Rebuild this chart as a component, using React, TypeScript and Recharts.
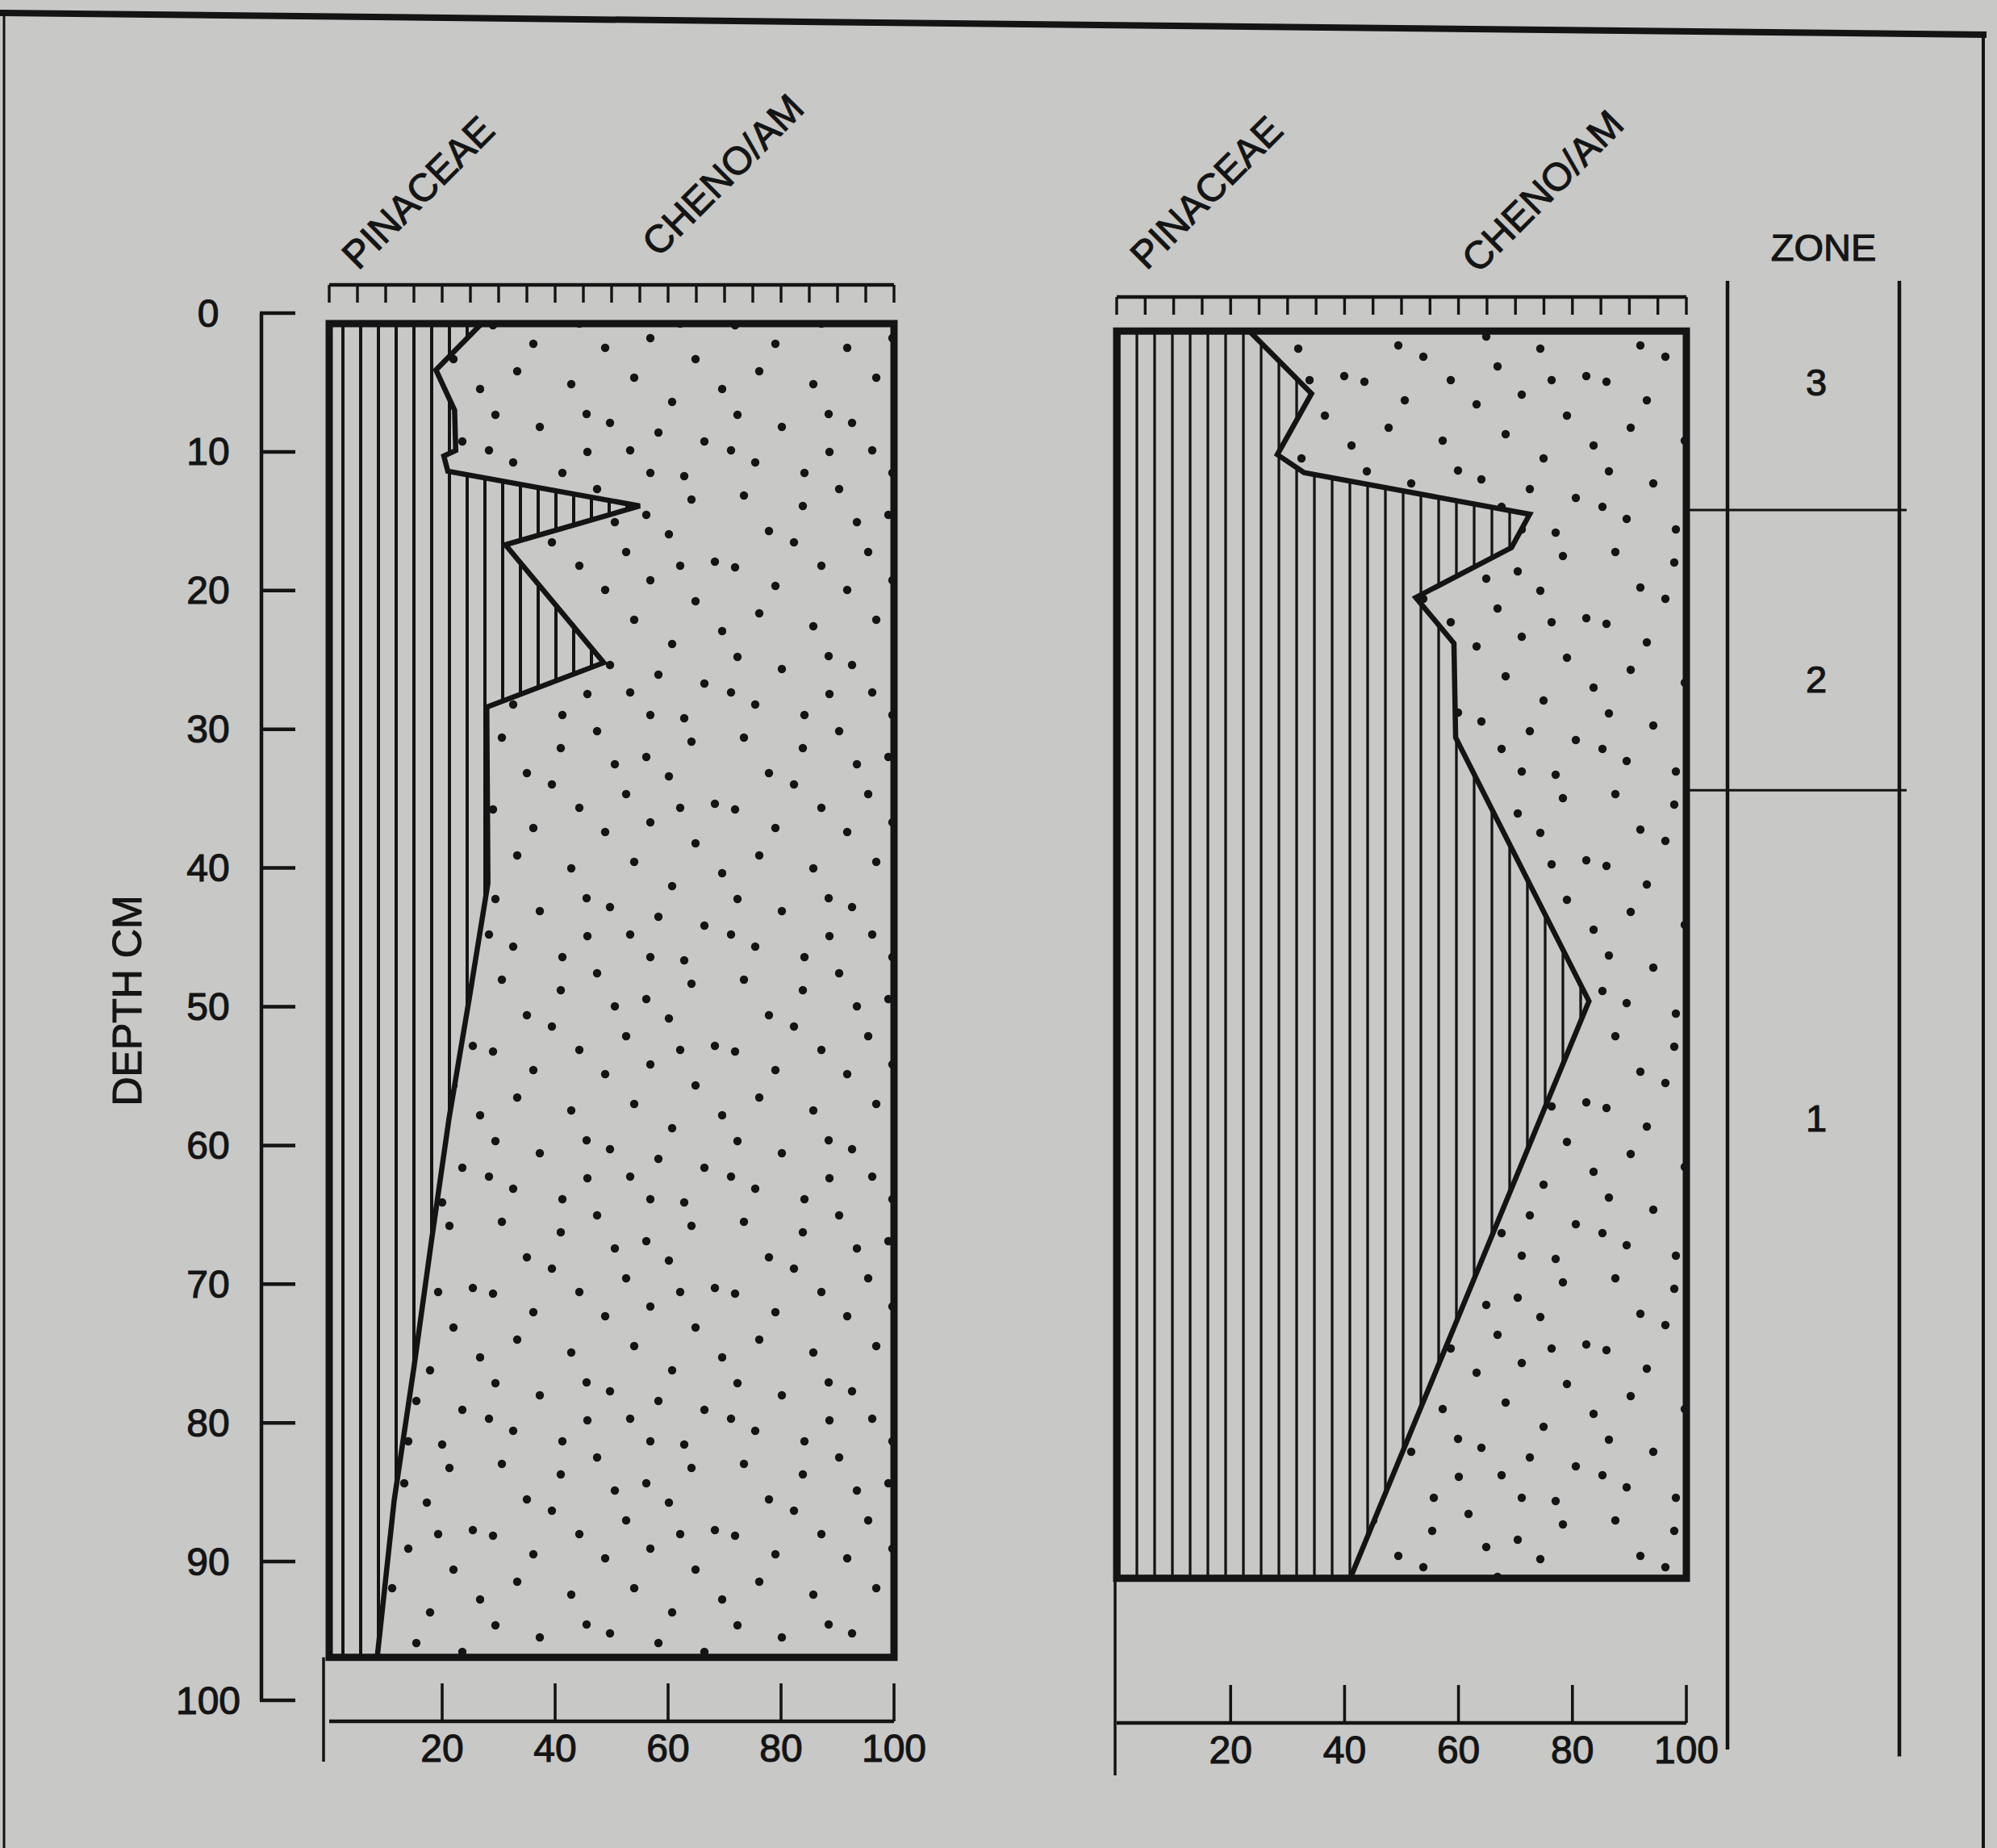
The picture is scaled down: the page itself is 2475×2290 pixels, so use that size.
import React from 'react';
import { ComposedChart, Area, XAxis, YAxis, ReferenceLine, ReferenceArea, ReferenceDot } from 'recharts';

// ---------- data ----------
const TAXA = ['PINACEAE', 'CHENO/AM'];

// left core: depth (cm) and Pinaceae percentage (remainder is Cheno/Am)
const LEFT_DEPTH = [0.75, 4.1, 7.0, 9.9, 10.3, 11.4, 13.9, 16.7, 25.2, 28.4, 41.1, 49.4, 58.1, 66.9, 76.0, 85.6, 96.9];
const LEFT_PINACEAE = [27.0, 18.9, 22.2, 22.4, 20.3, 21.0, 55.0, 31.2, 48.6, 27.9, 28.1, 24.8, 21.2, 18.1, 15.0, 11.5, 8.5];

// right core
const RIGHT_DEPTH = [1.3, 5.8, 10.2, 11.5, 14.5, 16.9, 20.5, 23.8, 30.6, 49.6, 91.2];
const RIGHT_PINACEAE = [23.3, 34.2, 28.2, 32.9, 72.5, 69.3, 52.5, 59.2, 59.5, 82.9, 41.0];

const DEPTH_TICKS = [0, 10, 20, 30, 40, 50, 60, 70, 80, 90, 100];
const RULER_TICKS = [0, 5, 10, 15, 20, 25, 30, 35, 40, 45, 50, 55, 60, 65, 70, 75, 80, 85, 90, 95, 100];
const PERCENT_TICKS = [20, 40, 60, 80, 100];

const ZONE_BOUNDARIES = [14.2, 34.4];
const ZONE_NAMES = ['3', '2', '1'];
const ZONE_LABEL_DEPTHS = [5.0, 26.4, 58.0];

// ---------- style ----------
const INK = '#141414';
const PAPER = '#c8c8c6';
const FONT = '"Liberation Sans", Arial, Helvetica, sans-serif';
const TEXT_STROKE = 1.1;
const PAGE_W = 2475;
const PAGE_H = 2290;
const DEPTH0_PX = 388;
const DEPTH100_PX = 2107;
const PX_PER_CM = (DEPTH100_PX - DEPTH0_PX) / 100;
const pxToDepth = (px: number) => (px - DEPTH0_PX) / PX_PER_CM;
const TOP_AXIS_H = 40;
const BOTTOM_AXIS_H = 100;
const Y_AXIS_W = 200;

const textStyle = {
  fontFamily: FONT,
  fill: INK,
  stroke: INK,
  strokeWidth: TEXT_STROKE,
};

function RulerTick(props: any) {
  const { x, y } = props;
  return <line x1={x} y1={y} x2={x} y2={y + 22} stroke={INK} strokeWidth={3.4} />;
}

function PercentTick(props: any) {
  const { x, y, payload } = props;
  return (
    <g>
      <line x1={x} y1={y} x2={x} y2={y - 47} stroke={INK} strokeWidth={3.6} />
      <text x={x} y={y + 33} textAnchor="middle" dominantBaseline="central" fontSize={48} {...textStyle}>
        {payload.value}
      </text>
    </g>
  );
}

function DepthTick(props: any) {
  const { x, y, payload } = props;
  return (
    <g>
      <line x1={x - 86} y1={y} x2={x - 42} y2={y} stroke={INK} strokeWidth={4.5} />
      <text x={x - 150} y={y} textAnchor="middle" dominantBaseline="central" fontSize={48} {...textStyle}>
        {payload.value}
      </text>
    </g>
  );
}

type PanelProps = {
  id: string;
  left: number;
  width: number;
  plotLeft: number;
  plotRight: number;
  plotTop: number;
  plotBottom: number;
  depths: number[];
  values: number[];
  depthAxis: boolean;
  borderWidth: number;
  stubX: number;
  stubBottom: number;
  zones: boolean;
};

function Panel(p: PanelProps) {
  const data = p.depths.map((d, i) => ({ depth: d, pinaceae: p.values[i] }));
  const pxPerPct = (p.plotRight - p.plotLeft) / 100;
  const pxToPct = (px: number) => (px - p.plotLeft) / pxPerPct;
  const yDomain = [pxToDepth(p.plotTop), pxToDepth(p.plotBottom)];
  const boxTop = p.depths[0];
  const boxBottom = p.depths[p.depths.length - 1];
  const margin = {
    top: p.plotTop - TOP_AXIS_H,
    bottom: PAGE_H - p.plotBottom - BOTTOM_AXIS_H,
    left: p.plotLeft - p.left - (p.depthAxis ? Y_AXIS_W : 0),
    right: p.left + p.width - p.plotRight,
  };
  const zoneLeft = pxToPct(2141);
  const zoneRight = pxToPct(2354);
  const zoneTop = pxToDepth(348);
  const zoneBottom = pxToDepth(2168);
  const zoneLineFrom = pxToPct(2093);
  const zoneLineTo = pxToPct(2363);
  const zoneLabelX = pxToPct(2251);

  return (
    <div style={{ position: 'absolute', left: p.left, top: 0, width: p.width, height: PAGE_H }}>
      <ComposedChart layout="vertical" width={p.width} height={PAGE_H} data={data} margin={margin}>
        <XAxis
          xAxisId="top"
          orientation="top"
          type="number"
          domain={[0, 100]}
          ticks={RULER_TICKS}
          interval={0}
          height={TOP_AXIS_H}
          tickSize={0}
          tickMargin={0}
          tickLine={false}
          axisLine={{ stroke: INK, strokeWidth: 4.5 }}
          tick={<RulerTick />}
          allowDataOverflow
        />
        <XAxis
          xAxisId="bot"
          orientation="bottom"
          type="number"
          domain={[0, 100]}
          ticks={PERCENT_TICKS}
          interval={0}
          height={BOTTOM_AXIS_H}
          tickSize={0}
          tickMargin={0}
          tickLine={false}
          axisLine={{ stroke: INK, strokeWidth: 4.5 }}
          tick={<PercentTick />}
          allowDataOverflow
        />
        <YAxis
          type="number"
          dataKey="depth"
          domain={yDomain}
          allowDataOverflow
          ticks={DEPTH_TICKS}
          interval={0}
          hide={!p.depthAxis}
          width={Y_AXIS_W}
          tickSize={0}
          tickMargin={0}
          tickLine={false}
          axisLine={false}
          tick={<DepthTick />}
        />
        <ReferenceArea
          xAxisId="bot"
          x1={0}
          x2={100}
          y1={boxTop}
          y2={boxBottom}
          fill={`url(#dots-${p.id})`}
          fillOpacity={1}
          stroke="none"
          ifOverflow="visible"
          zIndex={50}
        />
        <Area
          xAxisId="bot"
          dataKey="pinaceae"
          type="linear"
          baseValue={0}
          fill={`url(#hatch-${p.id})`}
          fillOpacity={1}
          stroke={INK}
          strokeWidth={6.5}
          strokeLinejoin="miter"
          dot={false}
          activeDot={false}
          isAnimationActive={false}
          zIndex={100}
        />
        <ReferenceArea
          xAxisId="bot"
          x1={0}
          x2={100}
          y1={boxTop}
          y2={boxBottom}
          fill="none"
          stroke={INK}
          strokeWidth={p.borderWidth}
          ifOverflow="visible"
          zIndex={150}
        />
        <ReferenceLine
          xAxisId="bot"
          segment={[
            { x: pxToPct(p.stubX), y: boxBottom },
            { x: pxToPct(p.stubX), y: pxToDepth(p.stubBottom) },
          ]}
          stroke={INK}
          strokeWidth={3.5}
          ifOverflow="visible"
          zIndex={160}
        />
        {p.depthAxis && (
          <ReferenceLine
            xAxisId="bot"
            segment={[
              { x: pxToPct(324), y: 0 },
              { x: pxToPct(324), y: 100 },
            ]}
            stroke={INK}
            strokeWidth={4.5}
            ifOverflow="visible"
            zIndex={160}
          />
        )}
        {p.zones && (
          <ReferenceLine
            xAxisId="bot"
            segment={[
              { x: zoneLeft, y: zoneTop },
              { x: zoneLeft, y: zoneBottom },
            ]}
            stroke={INK}
            strokeWidth={4.5}
            ifOverflow="visible"
            zIndex={160}
          />
        )}
        {p.zones && (
          <ReferenceLine
            xAxisId="bot"
            segment={[
              { x: zoneRight, y: zoneTop },
              { x: zoneRight, y: zoneBottom + 0.5 },
            ]}
            stroke={INK}
            strokeWidth={4.5}
            ifOverflow="visible"
            zIndex={160}
          />
        )}
        {p.zones &&
          ZONE_BOUNDARIES.map((b) => (
            <ReferenceLine
              key={`zb-${b}`}
              xAxisId="bot"
              segment={[
                { x: zoneLineFrom, y: b },
                { x: zoneLineTo, y: b },
              ]}
              stroke={INK}
              strokeWidth={3}
              ifOverflow="visible"
              zIndex={160}
            />
          ))}
        {p.zones &&
          ZONE_NAMES.map((z, i) => (
            <ReferenceDot
              key={`zl-${z}`}
              xAxisId="bot"
              x={zoneLabelX}
              y={ZONE_LABEL_DEPTHS[i]}
              r={0}
              ifOverflow="visible"
              zIndex={170}
              shape={(s: any) => (
                <text x={s.cx} y={s.cy} textAnchor="middle" dominantBaseline="central" fontSize={47} {...textStyle}>
                  {z}
                </text>
              )}
            />
          ))}
        {p.zones && (
          <ReferenceDot
            xAxisId="bot"
            x={pxToPct(2260)}
            y={pxToDepth(306)}
            r={0}
            ifOverflow="visible"
            zIndex={170}
            shape={(s: any) => (
              <text x={s.cx} y={s.cy} textAnchor="middle" dominantBaseline="central" fontSize={47} {...textStyle}>
                ZONE
              </text>
            )}
          />
        )}
      </ComposedChart>
    </div>
  );
}

// hand-placed stipple positions inside one 300×300 pattern tile
const DOTS = [
  [22, 14], [95, 27], [140, 6], [201, 38], [257, 19], [84, 72],
  [53, 58], [118, 101], [176, 84], [229, 62], [286, 96], [162, 47],
  [11, 103], [61, 126], [150, 131], [206, 119], [262, 145], [243, 101],
  [41, 160], [108, 176], [186, 168], [233, 198], [295, 182], [127, 213],
  [14, 214], [69, 229], [156, 224], [181, 258], [216, 236], [273, 247],
  [36, 273], [97, 286], [128, 260], [248, 290], [6, 258], [206, 286],
];

function Patterns() {
  const hatch = (id: string, offset: number, w: number) => (
    <pattern id={`hatch-${id}`} patternUnits="userSpaceOnUse" width={22} height={22}>
      <rect width={22} height={22} fill={PAPER} />
      <line x1={offset} y1={-1} x2={offset} y2={23} stroke={INK} strokeWidth={w} />
    </pattern>
  );
  const dots = (id: string, dx: number, dy: number) => (
    <pattern id={`dots-${id}`} patternUnits="userSpaceOnUse" width={300} height={300} x={dx} y={dy}>
      <rect width={300} height={300} fill={PAPER} />
      {DOTS.map(([cx, cy], i) => (
        <circle key={i} cx={cx} cy={cy} r={5.2} fill={INK} />
      ))}
    </pattern>
  );
  return (
    <svg width={0} height={0} style={{ position: 'absolute', left: 0, top: 0 }}>
      <defs>
        {hatch('left', 7, 4)}
        {hatch('right', 5, 3.3)}
        {dots('left', 0, 0)}
        {dots('right', 130, 70)}
      </defs>
    </svg>
  );
}

function Overlay() {
  const label = (text: string, x: number, y: number) => (
    <text x={x} y={y} transform={`rotate(-45 ${x} ${y})`} fontSize={48} {...textStyle}>
      {text}
    </text>
  );
  return (
    <svg width={PAGE_W} height={PAGE_H} style={{ position: 'absolute', left: 0, top: 0, pointerEvents: 'none' }}>
      <line x1={0} y1={16} x2={2462} y2={43} stroke={INK} strokeWidth={8} />
      <line x1={5} y1={16} x2={5} y2={PAGE_H} stroke={INK} strokeWidth={3} />
      <line x1={2458} y1={42} x2={2458} y2={PAGE_H} stroke={INK} strokeWidth={4} />
      {label(TAXA[0], 444, 336)}
      {label(TAXA[1], 816, 320)}
      {label(TAXA[0], 1421, 336)}
      {label(TAXA[1], 1832, 340)}
      <text
        x={158}
        y={1240}
        transform="rotate(-90 158 1240)"
        textAnchor="middle"
        dominantBaseline="central"
        fontSize={50}
        {...textStyle}
      >
        DEPTH CM
      </text>
    </svg>
  );
}

export default function App() {
  return (
    <div style={{ position: 'absolute', left: 0, top: 0, width: PAGE_W, height: PAGE_H, background: PAPER, overflow: 'hidden' }}>
      <Patterns />
      <Panel
        id="left"
        left={0}
        width={1250}
        plotLeft={408}
        plotRight={1108}
        plotTop={353}
        plotBottom={2133}
        depths={LEFT_DEPTH}
        values={LEFT_PINACEAE}
        depthAxis={true}
        borderWidth={9}
        stubX={401}
        stubBottom={2183}
        zones={false}
      />
      <Panel
        id="right"
        left={1250}
        width={1225}
        plotLeft={1384}
        plotRight={2090}
        plotTop={368}
        plotBottom={2135}
        depths={RIGHT_DEPTH}
        values={RIGHT_PINACEAE}
        depthAxis={false}
        borderWidth={9}
        stubX={1382}
        stubBottom={2200}
        zones={true}
      />
      <Overlay />
    </div>
  );
}
